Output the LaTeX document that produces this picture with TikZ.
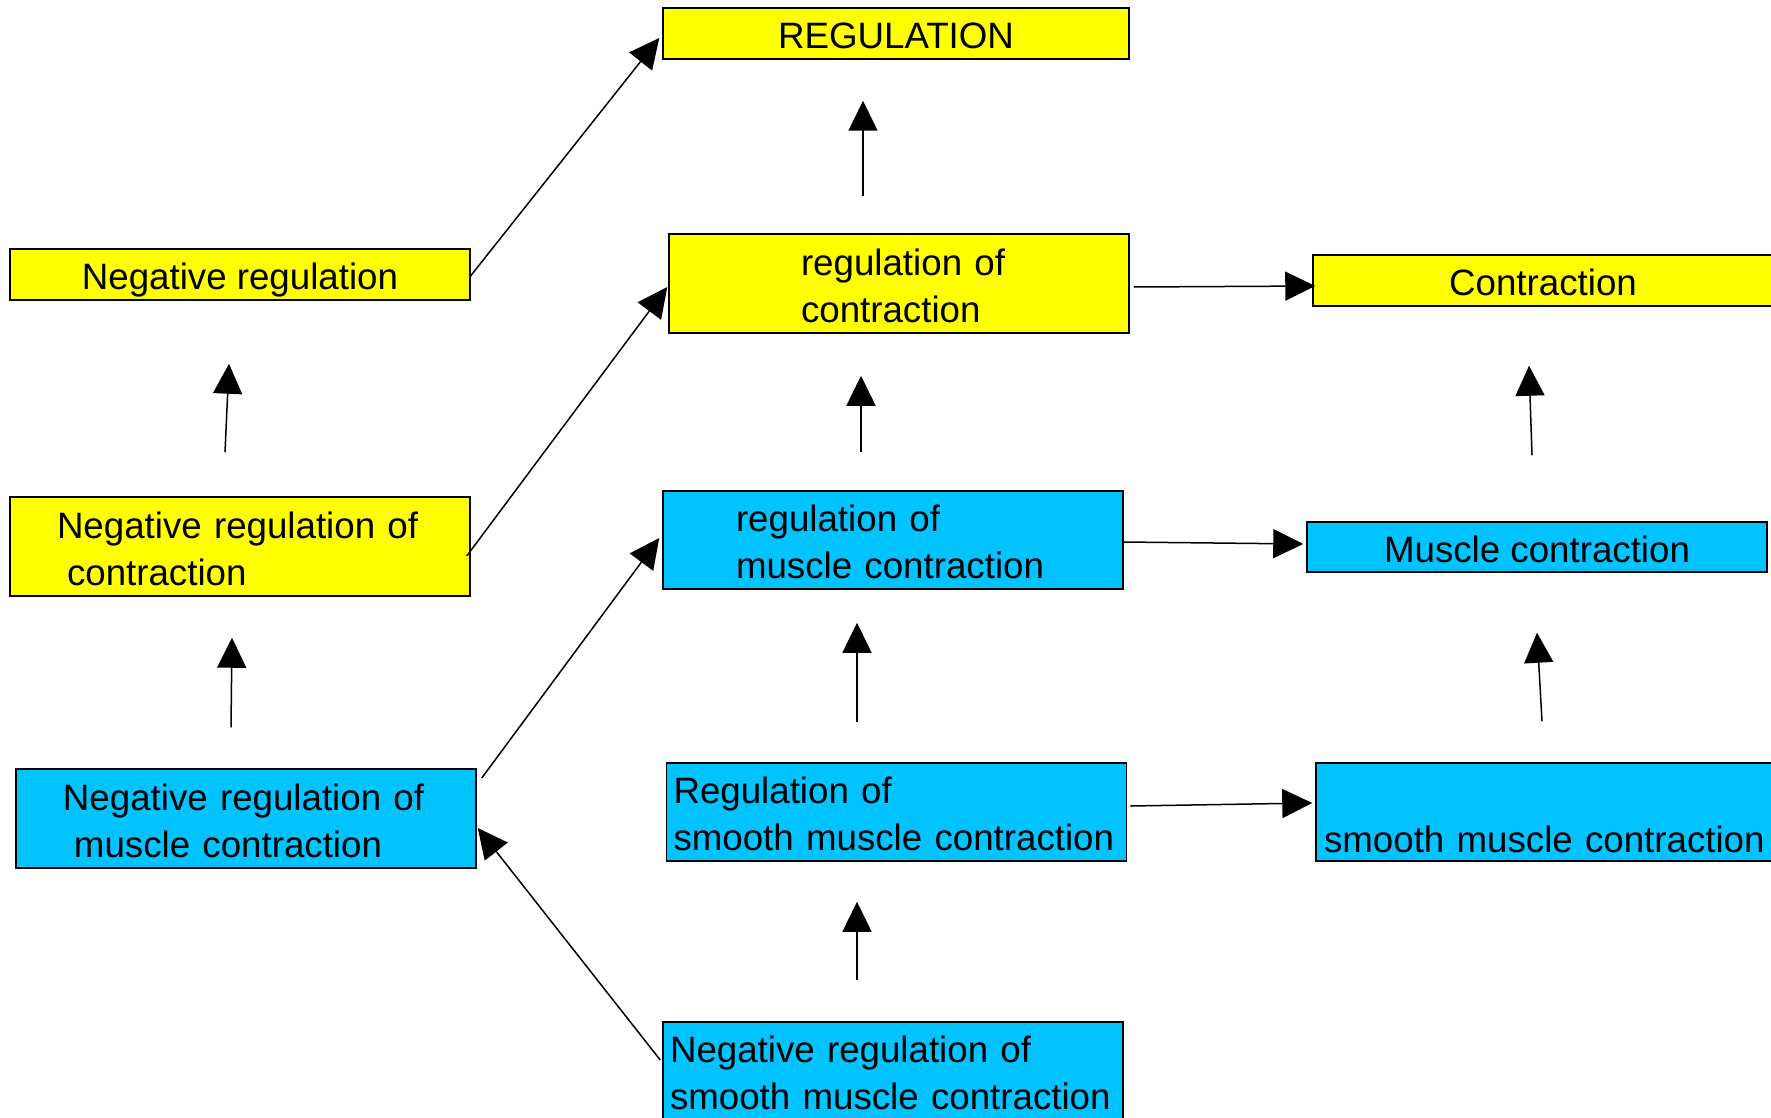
\documentclass[tikz,border=0pt]{standalone}
\usepackage{fontspec}
\setmainfont{Liberation Sans}
\usetikzlibrary{arrows.meta}
\definecolor{boxyellow}{RGB}{255,255,0}
\definecolor{boxblue}{RGB}{0,195,255}

\begin{document}
\begin{tikzpicture}[x=1pt,y=-1pt,
    font=\fontsize{36.7}{47}\selectfont,
    term/.style={draw=black,line width=1.5pt,rectangle,minimum width=460pt,inner sep=0pt},
    oneline/.style={term,minimum height=51pt,text height=30pt,text depth=0pt},
    twoline/.style={term,minimum height=98pt,text width=460pt,align=left,
      execute at begin node={\rule{0pt}{31pt}}},
    gen/.style={fill=boxyellow},
    mus/.style={fill=boxblue},
    arr/.style={line width=1.5pt,-{Triangle[length=30pt,width=29pt]}}]
        \useasboundingbox (0,0) rectangle (1771,1118);
        \clip (0,0) rectangle (1771,1118);
        % yellow terms
        \node[oneline,gen,minimum width=466pt] (reg) at (896,33.5) {REGULATION};
        \node[twoline,gen,minimum height=99pt] (regcon) at (899,283.5)
          {\hspace*{132pt}regulation of\\\hspace*{132pt}contraction};
        \node[oneline,gen] (con) at (1543,280.5) {Contraction};
        \node[oneline,gen] (negreg) at (240,274.5) {Negative regulation};
        \node[twoline,gen,minimum height=99pt] (negregcon) at (240,546.5)
          {\hspace*{47pt}Negative regulation of\\\hspace*{57pt}contraction};
        % blue terms
        \node[twoline,mus] (rmcon) at (893,540)
          {\hspace*{73pt}regulation of\\\hspace*{73pt}muscle contraction};
        \node[oneline,mus,minimum height=50pt] (mcon) at (1537,547) {Muscle contraction};
        \node[twoline,mus,minimum height=99pt] (negmcon) at (246,818.5)
          {\hspace*{47pt}Negative regulation of\\\hspace*{58pt}muscle contraction};
        \node[twoline,mus] (rsmcon) at (896.5,812)
          {\hspace*{7pt}Regulation of\\\hspace*{7pt}smooth muscle contraction};
        \node[twoline,mus] (smcon) at (1546,812)
          {\rule{0pt}{33.5pt}\\\hspace*{8pt}smooth muscle contraction};
        \node[twoline,mus] (negsmcon) at (893,1071)
          {\hspace*{7pt}Negative regulation of\\\hspace*{7pt}smooth muscle contraction};
        % upward arrows
        \foreach \from/\fx/\fy/\to/\tx/\ty in {%
          negregcon/-15/-44/negreg/-11/63,
          negmcon/-15/-41/negregcon/-8/41,
          regcon/-36/-37/reg/-33/41,
          rmcon/-32/-38/regcon/-38/42,
          rsmcon/-39.5/-40/rmcon/-36/33,
          negsmcon/-36/-41/rsmcon/-39.5/40,
          mcon/-5/-66/con/-14/59,
          smcon/-4/-41/mcon/0/60} {
            \draw[arr] ([shift={(\fx,\fy)}]\from.north) -- ([shift={(\tx,\ty)}]\to.south);
        }
        % rightward arrows
        \foreach \from/\fx/\fy/\to/\tx/\ty in {%
          regcon/4/3.5/con/3/5.5,
          rmcon/0/2/mcon/-3/-3,
          rsmcon/3/-6/smcon/-3/-9} {
            \draw[arr] ([shift={(\fx,\fy)}]\from.east) -- ([shift={(\tx,\ty)}]\to.west);
        }
        % slanted arrows
        \draw[arr] ([shift={(-1,2.5)}]negreg.east) -- ([shift={(-3,4.5)}]reg.west);
        \draw[arr] ([shift={(-4,9.5)}]negregcon.east) -- ([shift={(-1,3.5)}]regcon.west);
        \draw[arr] ([shift={(5,-40.5)}]negmcon.east) -- ([shift={(-3,-2)}]rmcon.west);
        \draw[arr] ([shift={(-2,-11)}]negsmcon.west) -- ([shift={(1,9.5)}]negmcon.east);
      \end{tikzpicture}
\end{document}
